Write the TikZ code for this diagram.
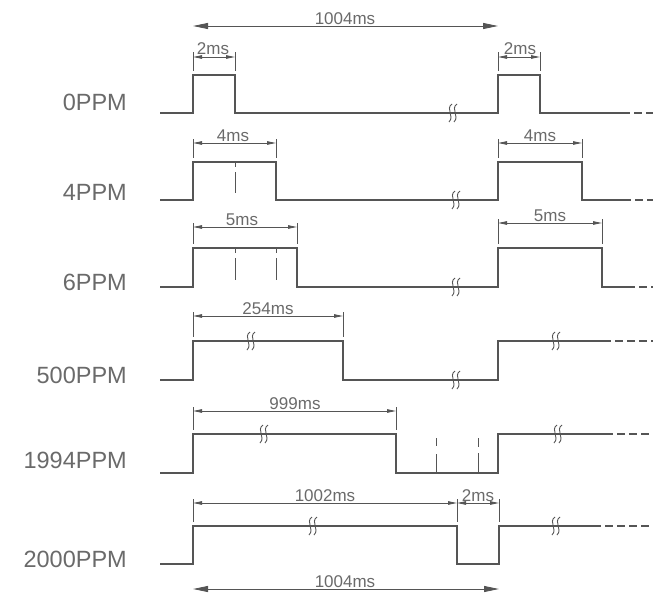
\documentclass[tikz,border=0pt]{standalone}
\usepackage{fontspec}
\setmainfont{Liberation Sans}
\usetikzlibrary{arrows.meta}
\definecolor{wavec}{HTML}{555555}
\definecolor{txtc}{HTML}{6A6A6A}
\tikzset{
  wave/.style={draw=wavec, line width=1.15pt, line join=miter},
  dashtail/.style={draw=wavec, line width=1.15pt, dash pattern=on 8pt off 4pt},
  extl/.style={draw=wavec, line width=0.9pt},
  tick/.style={draw=wavec, line width=0.9pt},
  dimarr/.style={draw=wavec, line width=0.9pt, {Triangle[length=9pt,width=3.5pt]}-{Triangle[length=9pt,width=3.5pt]}},
  bigarr/.style={draw=wavec, line width=0.9pt, {Triangle[length=15pt,width=6pt]}-{Triangle[length=15pt,width=6pt]}},
  lab/.style={font=\fontsize{23.5}{24}\selectfont, text=txtc, anchor=base east, inner sep=0pt},
  mslab/.style={font=\fontsize{17}{17}\selectfont, text=txtc, anchor=base, inner sep=0pt},
  brk/.pic={
    \draw[draw=wavec, line width=0.9pt] (0,-9) .. controls (-7,-4) and (3,3) .. (-3,9);
    \draw[draw=wavec, line width=0.9pt] (5,-9) .. controls (-2,-4) and (8,3) .. (2,9);
  }
}
\begin{document}
\begin{tikzpicture}[x=1pt,y=-1pt]
\useasboundingbox (0,0) rectangle (653,597);

% labels
\node[lab] (l0) at (127,110) {0PPM};
\node[lab] (l4) at (127,200) {4PPM};
\node[lab] (l6) at (127,290) {6PPM};
\node[lab] (l500) at (127,383) {500PPM};
\node[lab] (l1994) at (127,468) {1994PPM};
\node[lab] (l2000) at (127,567) {2000PPM};

% ---- 0PPM
\draw[wave] (160,113) -- (193,113) -- (193,75) -- (235,75) -- (235,113) -- (498,113) -- (498,75) -- (540,75) -- (540,113) -- (622,113);
\draw[dashtail] (622,113) -- (653,113);
\pic at (452,113) {brk};
\draw[extl] (193,52) -- (193,71);
\draw[extl] (235,52) -- (235,71);
\draw[extl] (498,52) -- (498,71);
\draw[extl] (540,52) -- (540,71);
\draw[dimarr] (193,57) -- (235,57);
\draw[dimarr] (498,57) -- (540,57);
\node[mslab] (t2a) at (213,54) {2ms};
\node[mslab] (t2b) at (520,54) {2ms};
\draw[bigarr] (193,26) -- (498,26);
\node[mslab] (t1004a) at (345,24) {1004ms};

% ---- 4PPM
\draw[wave] (160,200) -- (193,200) -- (193,162) -- (276,162) -- (276,200) -- (498,200) -- (498,162) -- (582,162) -- (582,200) -- (623,200);
\draw[dashtail] (623,200) -- (653,200);
\pic at (455,200) {brk};
\draw[tick] (235,163) -- (235,167);
\draw[tick] (235,172) -- (235,193);
\draw[extl] (193,139) -- (193,158);
\draw[extl] (276,139) -- (276,158);
\draw[extl] (498,139) -- (498,158);
\draw[extl] (582,139) -- (582,158);
\draw[dimarr] (193,143) -- (276,143);
\draw[dimarr] (498,143) -- (582,143);
\node[mslab] (t4a) at (233,141) {4ms};
\node[mslab] (t4b) at (540,141) {4ms};

% ---- 6PPM
\draw[wave] (160,287) -- (193,287) -- (193,248) -- (297,248) -- (297,287) -- (498,287) -- (498,248) -- (602,248) -- (602,287) -- (627,287);
\draw[dashtail] (627,287) -- (653,287);
\pic at (455,287) {brk};
\draw[tick] (235,249) -- (235,253);
\draw[tick] (235,258) -- (235,280);
\draw[tick] (276,249) -- (276,253);
\draw[tick] (276,258) -- (276,280);
\draw[extl] (193,223) -- (193,244);
\draw[extl] (297,223) -- (297,244);
\draw[extl] (498,219) -- (498,244);
\draw[extl] (602,219) -- (602,244);
\draw[dimarr] (193,227) -- (297,227);
\draw[dimarr] (498,223) -- (602,223);
\node[mslab] (t5a) at (242,225) {5ms};
\node[mslab] (t5b) at (550,221) {5ms};

% ---- 500PPM
\draw[wave] (160,380) -- (193,380) -- (193,341) -- (343,341) -- (343,380) -- (498,380) -- (498,341) -- (603,341);
\draw[dashtail] (603,341) -- (653,341);
\pic at (250,341) {brk};
\pic at (455,380) {brk};
\pic at (555,341) {brk};
\draw[extl] (193,312) -- (193,337);
\draw[extl] (343,312) -- (343,337);
\draw[dimarr] (193,316) -- (343,316);
\node[mslab] (t254) at (268,314) {254ms};

% ---- 1994PPM
\draw[wave] (160,473) -- (193,473) -- (193,434) -- (396,434) -- (396,473) -- (498,473) -- (498,434) -- (605,434);
\draw[dashtail] (605,434) -- (653,434);
\pic at (263,434) {brk};
\pic at (557,434) {brk};
\draw[tick] (436,438) -- (436,446);
\draw[tick] (436,454) -- (436,473);
\draw[tick] (478,438) -- (478,447);
\draw[tick] (478,453) -- (478,473);
\draw[extl] (193,407) -- (193,430);
\draw[extl] (396,407) -- (396,430);
\draw[dimarr] (193,411) -- (396,411);
\node[mslab] (t999) at (295,409) {999ms};

% ---- 2000PPM
\draw[wave] (160,564) -- (193,564) -- (193,526) -- (457,526) -- (457,564) -- (499,564) -- (499,526) -- (593,526);
\draw[dashtail] (593,526) -- (653,526);
\pic at (312,526) {brk};
\pic at (555,526) {brk};
\draw[extl] (193,499) -- (193,522);
\draw[extl] (457,499) -- (457,522);
\draw[extl] (499,499) -- (499,522);
\draw[dimarr] (193,503) -- (457,503);
\draw[dimarr] (457,503) -- (499,503);
\node[mslab] (t1002) at (325,501) {1002ms};
\node[mslab] (t2c) at (478,501) {2ms};
\draw[bigarr] (193,589) -- (499,589);
\node[mslab] (t1004b) at (345,587) {1004ms};
\end{tikzpicture}
\end{document}
